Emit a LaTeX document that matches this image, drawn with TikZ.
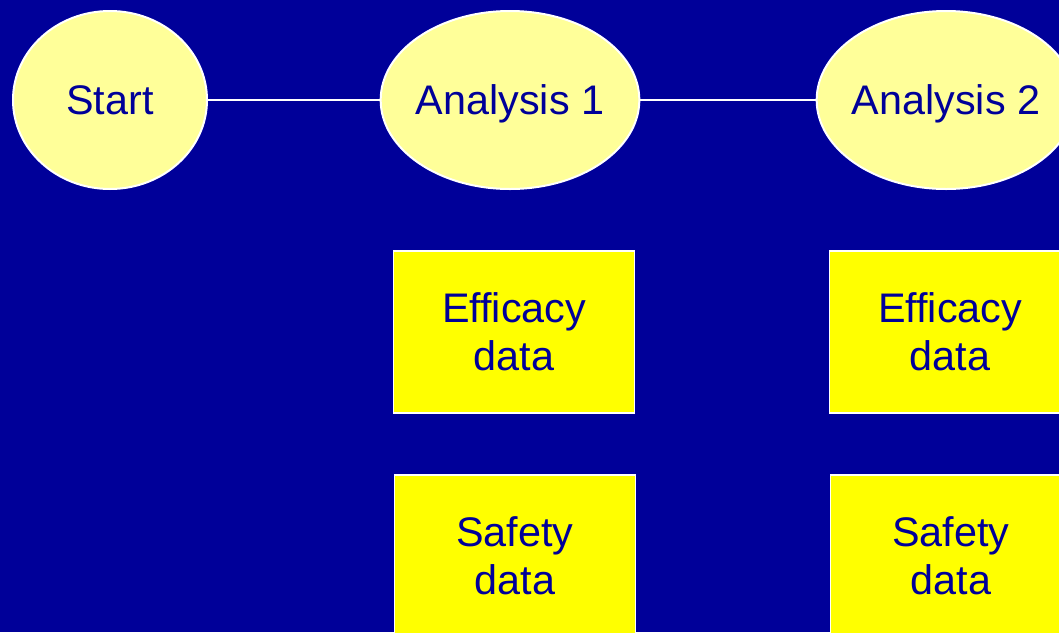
\documentclass[tikz,border=0pt]{standalone}
\usepackage{fontspec}
\setmainfont{Liberation Sans}
\usetikzlibrary{shapes.geometric}

\definecolor{slideblue}{RGB}{0,0,153}
\definecolor{paleyellow}{RGB}{255,255,153}
\definecolor{boxyellow}{RGB}{255,255,0}

% label whose width does not grow the ellipse
\newcommand{\stagelabel}[1]{\makebox[0pt]{#1}}

\tikzset{
  stage/.style={ellipse, draw=white, line width=1.5pt, fill=paleyellow,
    inner sep=0pt, minimum height=133.5pt, text depth=0pt, text=slideblue,
    font=\fontsize{31}{36}\selectfont},
  databox/.style={rectangle, draw=white, line width=1.2pt, fill=boxyellow,
    inner sep=0pt, minimum width=181pt, minimum height=121.5pt,
    text=slideblue, align=center, font=\fontsize{31}{36}\selectfont},
  link/.style={draw=white, line width=1.5pt}
}

\begin{document}
\begin{tikzpicture}[x=0.75pt, y=-0.75pt]

    % --- Slide Area ---
    \useasboundingbox (0,0) rectangle (1059,632);
    \fill[slideblue] (0,0) rectangle (1059,632);
    \clip (0,0) rectangle (1059,632);

    % --- Define Coordinates ---
    % Centres of the three stages along the top row
    \coordinate (S) at (110,100);
    \coordinate (A1) at (510,100);
    \coordinate (A2) at (946,100);

    % --- Stages ---
    \node[stage, minimum width=145.5pt] (start) at (S) {\stagelabel{Start}};
    \node[stage, minimum width=194pt] (ana1) at (A1) {\stagelabel{Analysis 1}};
    \node[stage, minimum width=194pt] (ana2) at (A2) {\stagelabel{Analysis 2}};

    % --- Connecting Lines ---
    \draw[link] (start) -- (ana1);
    \draw[link] (ana1) -- (ana2);

    % --- Data Boxes ---
    % Efficacy data under each analysis
    \node[databox] (eff1) at (514,332) {Efficacy\\data};
    \node[databox] (eff2) at (950,332) {Efficacy\\data};

    % Safety data further down (cut off by the slide edge)
    \node[databox] (saf1) at (515,556) {Safety\\data};
    \node[databox] (saf2) at (951,556) {Safety\\data};

\end{tikzpicture}
\end{document}
